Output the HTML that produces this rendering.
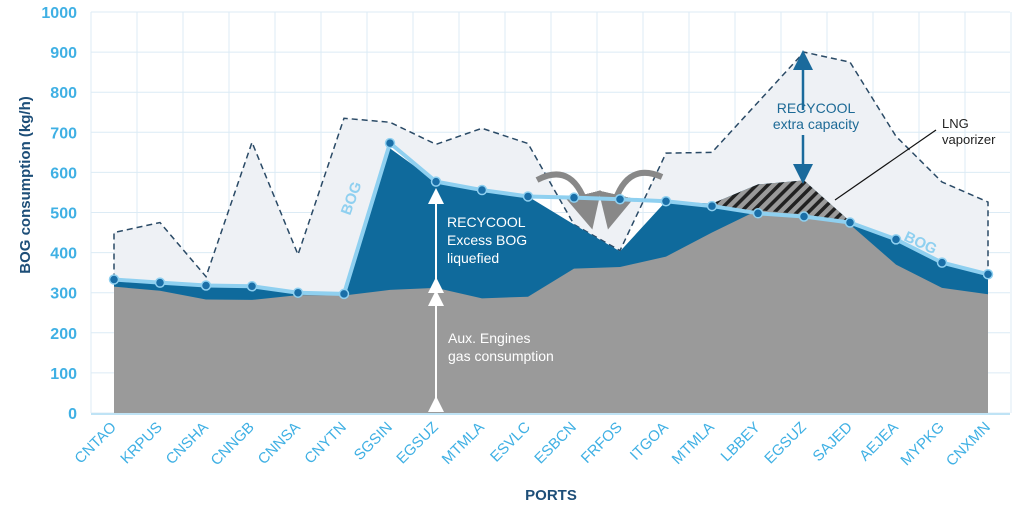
<!DOCTYPE html>
<html><head><meta charset="utf-8"><style>
body{margin:0;background:#fff;}
svg{display:block;font-family:"Liberation Sans",sans-serif;}
</style></head><body>
<svg id="chart" width="1020" height="506" viewBox="0 0 1020 506">
<defs>
<pattern id="hatch" patternUnits="userSpaceOnUse" width="8" height="8" patternTransform="rotate(45)">
<rect width="8" height="8" fill="#9a9a9a"/><rect width="3.5" height="8" fill="#222"/>
</pattern>
<marker id="ahW" markerWidth="8" markerHeight="8" refX="4" refY="4" orient="auto"><path d="M0,0L8,4L0,8z" fill="#fff"/></marker>
<marker id="ahB" markerWidth="8" markerHeight="8" refX="4" refY="4" orient="auto"><path d="M0,0L8,4L0,8z" fill="#1a6a9c"/></marker>
<marker id="ahG" markerWidth="6" markerHeight="6" refX="3" refY="3" orient="auto"><path d="M0,0L6,3L0,6z" fill="#888"/></marker>
</defs>
<g id="grid"></g>
<g id="areas"></g>
<g id="axes"></g>
<text x="30" y="185" transform="rotate(-90 30 185)" text-anchor="middle" font-size="15" font-weight="bold" fill="#1d4e78">BOG consumption (kg/h)</text>
<text x="551" y="500" text-anchor="middle" font-size="15" font-weight="bold" fill="#1d4e78">PORTS</text>
<g font-size="14">
<line x1="436" y1="404" x2="436" y2="298" stroke="#fff" stroke-width="2" marker-start="url(#ahW)" marker-end="url(#ahW)"/>
<line x1="436" y1="285" x2="436" y2="196" stroke="#fff" stroke-width="2" marker-start="url(#ahW)" marker-end="url(#ahW)"/>
<text x="447" y="227" fill="#fff"><tspan x="447">RECYCOOL</tspan><tspan x="447" dy="18">Excess BOG</tspan><tspan x="447" dy="18">liquefied</tspan></text>
<text x="448" y="343" fill="#fff"><tspan x="448">Aux. Engines</tspan><tspan x="448" dy="18">gas consumption</tspan></text>
<line x1="803" y1="110" x2="803" y2="60" stroke="#1a6a9c" stroke-width="2.5" marker-end="url(#ahB)"/>
<line x1="803" y1="135" x2="803" y2="174" stroke="#1a6a9c" stroke-width="2.5" marker-end="url(#ahB)"/>
<text x="816" y="113" text-anchor="middle" fill="#1d6a96"><tspan x="816">RECYCOOL</tspan><tspan x="816" dy="16">extra capacity</tspan></text>
<line x1="936" y1="130" x2="835" y2="200" stroke="#111" stroke-width="1.2"/>
<text x="942" y="128" fill="#222" font-size="13"><tspan x="942">LNG</tspan><tspan x="942" dy="16">vaporizer</tspan></text>
<path d="M537,180 Q575,160 588,212" fill="none" stroke="#888" stroke-width="6" marker-end="url(#ahG)"/>
<path d="M662,177 Q624,160 612,212" fill="none" stroke="#888" stroke-width="6" marker-end="url(#ahG)"/>
<text x="350" y="216" transform="rotate(-70 350 216)" fill="#8fd0f0" font-size="15" font-weight="bold">BOG</text>
<text x="903" y="240" transform="rotate(25 903 240)" fill="#8fd0f0" font-size="15" font-weight="bold">BOG</text>
</g>
<g id="marks"></g>
</svg>
<script>
const ports = ["CNTAO","KRPUS","CNSHA","CNNGB","CNNSA","CNYTN","SGSIN","EGSUZ","MTMLA","ESVLC","ESBCN","FRFOS","ITGOA","MTMLA","LBBEY","EGSUZ","SAJED","AEJEA","MYPKG","CNXMN"];
const bog = [333,325,318,316,300,297,673,577,556,540,537,533,528,516,498,490,475,433,375,346];
const capacity = [450,475,340,675,395,735,725,670,710,672,470,405,648,650,775,900,875,690,576,526];
const excessTop = [333,325,318,316,300,297,660,577,556,540,470,403,528,522,570,580,478,433,375,346];
const aux = [315,305,283,282,294,293,307,312,286,290,360,364,390,450,506,495,470,370,312,296];
const yTicks = [0,100,200,300,400,500,600,700,800,900,1000];
const NS="http://www.w3.org/2000/svg";
const X0=114, DX=46, Y0=413, YS=0.401;
const xs=i=>X0+DX*i, ys=v=>Y0-v*YS;
function mk(tag,attrs,parent){const e=document.createElementNS(NS,tag);for(const k in attrs)e.setAttribute(k,attrs[k]);parent.appendChild(e);return e;}
const grid=document.getElementById('grid'),areas=document.getElementById('areas'),axes=document.getElementById('axes'),marks=document.getElementById('marks');
// grid
for(let k=0;k<=20;k++){const l=mk('line',{x1:X0-23+DX*k,x2:X0-23+DX*k,y1:ys(1000),y2:Y0,stroke:'#dcebf5','stroke-width':1},grid);

}
yTicks.forEach(v=>{const l=mk('line',{x1:91,x2:1010,y1:ys(v),y2:ys(v),stroke:'#dcebf5','stroke-width':1},grid);


const t=mk('text',{x:77,y:ys(v)+6,'text-anchor':'end','font-size':16,'font-weight':'bold',fill:'#3fb0e4'},axes);t.textContent=v;

});
function pts(arr,from,to){let s=[];for(let i=from;i<=to;i++)s.push(xs(i)+','+ys(arr[i]));return s;}
const n=ports.length;
// capacity area
const cap=mk('polygon',{points:pts(capacity,0,n-1).concat(pts(bog,0,n-1).reverse()).join(' '),fill:'#eef1f5'},areas);


const capL=mk('polyline',{points:[xs(0)+','+ys(bog[0])].concat(pts(capacity,0,n-1)).concat([xs(n-1)+','+ys(bog[n-1])]).join(' '),fill:'none',stroke:'#2a4a66','stroke-width':1.5,'stroke-dasharray':'6,4'},areas);


const ex=mk('polygon',{points:pts(excessTop,0,n-1).concat([xs(n-1)+','+Y0,xs(0)+','+Y0]).join(' '),fill:'#0f6a9c'},areas);


const hatch=mk('polygon',{points:pts(excessTop,13,16).concat(pts(bog,13,16).reverse()).join(' '),fill:'url(#hatch)'},areas);


const ar=mk('polygon',{points:pts(aux,0,n-1).concat([xs(n-1)+','+Y0,xs(0)+','+Y0]).join(' '),fill:'#9a9a9a'},areas);


const ax=mk('line',{x1:91,x2:1010,y1:Y0+1,y2:Y0+1,stroke:'#bfe3f5','stroke-width':2},axes);


ports.forEach((p,i)=>{const t=mk('text',{x:xs(i)+3,y:428,'text-anchor':'end','font-size':15,fill:'#3fb0e4',transform:`rotate(-45 ${xs(i)+3} 428)`},axes);t.textContent=p;

});
const bl=mk('polyline',{points:pts(bog,0,n-1).join(' '),fill:'none',stroke:'#8fd0f0','stroke-width':4},marks);


bog.forEach((v,i)=>{const c=mk('circle',{cx:xs(i),cy:ys(v),r:4.5,fill:'#1a6fa8',stroke:'#8fd0f0','stroke-width':1.5},marks);

});
</script>
</body></html>
